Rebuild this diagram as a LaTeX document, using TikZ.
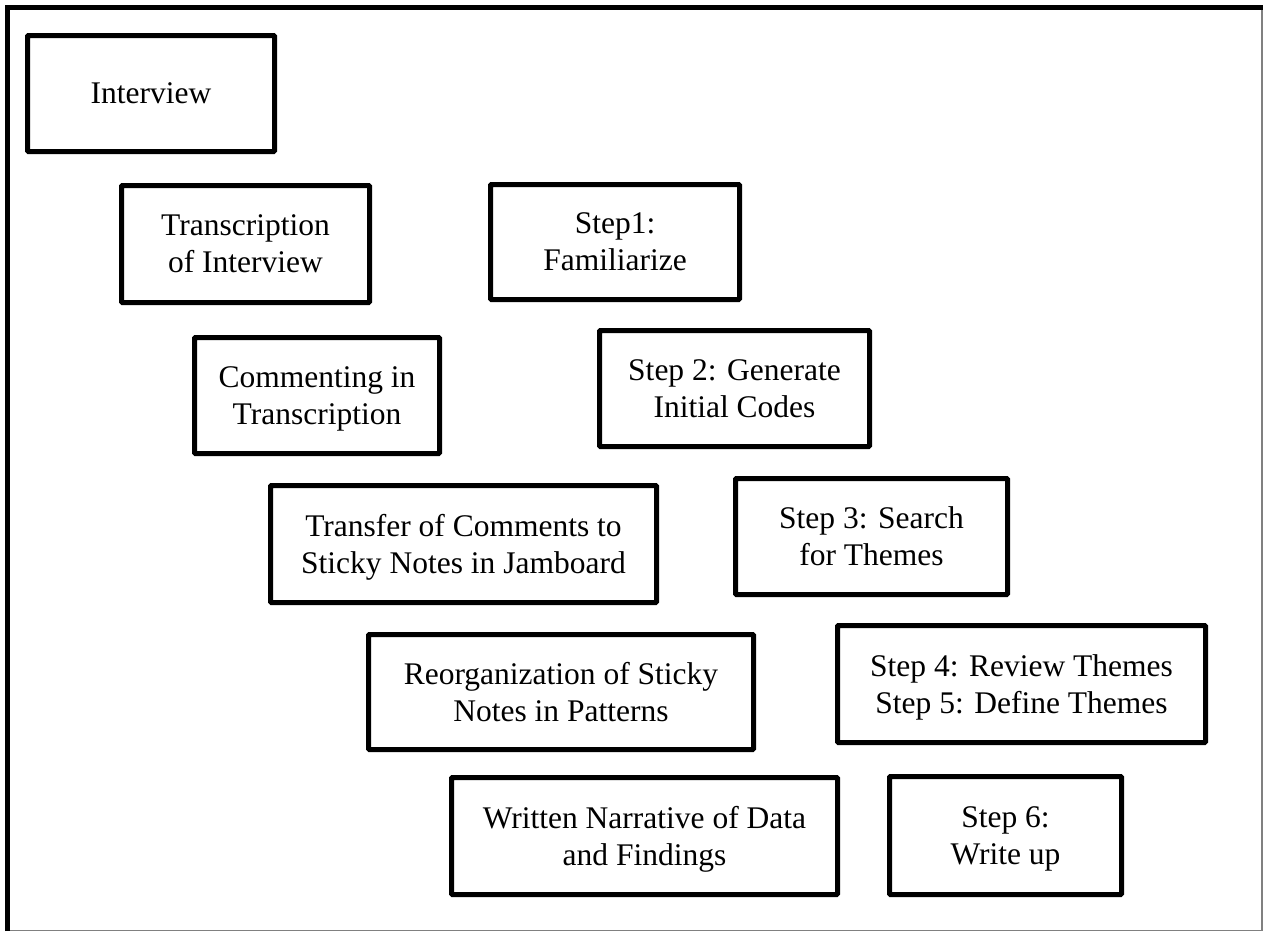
\documentclass[tikz,border=0pt]{standalone}
\usepackage{fontspec}
\setmainfont{Liberation Serif}
\begin{document}
\begin{tikzpicture}[x=1pt,y=-1pt,
  stagebox/.style={draw=black,line width=5pt,rounded corners=1pt,inner sep=0pt,
    align=center,text depth=0pt,font=\fontsize{31.5}{37}\selectfont}]
\useasboundingbox (0,0) rectangle (1264,932);
% outer frame: heavy top/left edges, thin grey right/bottom edges
\draw[line width=5pt] (7.5,931) -- (7.5,7.5) -- (1263,7.5);
\draw[gray,line width=1.5pt] (1262,10) -- (1262,930.5) -- (10,930.5);
% box given by its outer edges: name, left, top, right, bottom, text
\newcommand\stage[6]{%
  \node[stagebox,minimum width={#4pt-#2pt-5pt},minimum height={#5pt-#3pt-5pt}]
    (#1) at ({(#2+#4)/2},{(#3+#5)/2}) {#6};}
% left column: working steps
\stage{interview}{25}{33}{277}{154}{Interview}
\stage{transcr}{119}{183}{372}{305}{Transcription\\of Interview}
\stage{comment}{192}{335}{442}{456}{Commenting in\\Transcription}
\stage{transfer}{268}{483}{659}{605}{Transfer of Comments to\\Sticky Notes in Jamboard}
\stage{reorg}{366}{632}{756}{752}{Reorganization of Sticky\\Notes in Patterns}
\stage{written}{449}{775}{840}{897}{Written Narrative of Data\\and Findings}
% right column: analysis steps
\stage{stepone}{488}{182}{742}{302}{Step1:\\Familiarize}
\stage{steptwo}{597}{328}{872}{449}{Step 2: Generate\\Initial Codes}
\stage{stepthree}{733}{476}{1010}{597}{Step 3: Search\\for Themes}
\stage{stepfour}{835}{623}{1208}{745}{Step 4: Review Themes\\Step 5: Define Themes}
\stage{stepsix}{887}{774}{1124}{897}{Step 6:\\Write up}
\end{tikzpicture}
\end{document}
